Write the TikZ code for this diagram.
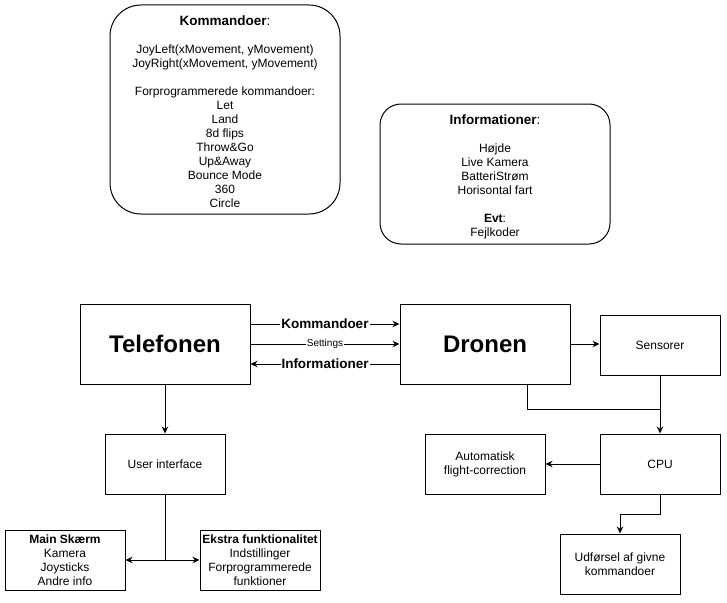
\documentclass[tikz,border=0pt]{standalone}
\usepackage{fontspec}
\setmainfont{Liberation Sans}
\usetikzlibrary{arrows.meta,positioning,calc}

\begin{document}
\begin{tikzpicture}[x=1pt,y=-1pt,>={Stealth[length=7pt,width=6.5pt]},line width=1pt,
  box/.style={draw,inner sep=0pt,align=center,font=\fontsize{12}{14}\selectfont},
  bigbox/.style={box,minimum width=170pt,minimum height=80pt,font=\fontsize{24}{26}\selectfont\bfseries},
  smallbox/.style={box,minimum width=120pt,minimum height=60pt},
  edgelabel/.style={fill=white,inner sep=1pt,font=\fontsize{13.5}{15}\selectfont\bfseries}]
\useasboundingbox (0,0) rectangle (727,602);
% info boxes
\node[box,rounded corners=31pt,minimum width=230pt,minimum height=209pt] (kom) at (225,109.5)
  {\rule{0pt}{15pt}{\fontsize{13.5}{15}\selectfont\textbf{Kommandoer}:}\\[14pt]
   JoyLeft(xMovement, yMovement)\\
   JoyRight(xMovement, yMovement)\\[14pt]
   Forprogrammerede kommandoer:\\
   Let\\ Land\\ 8d flips\\ Throw\&Go\\ Up\&Away\\ Bounce Mode\\ 360\\ Circle};
\node[box,rounded corners=21pt,minimum width=230pt,minimum height=140pt] (info) at (495,174)
  {\rule{0pt}{15pt}{\fontsize{13.5}{15}\selectfont\textbf{Informationer}:}\\[14pt]
   Højde\\ Live Kamera\\ BatteriStrøm\\ Horisontal fart\\[14pt]
   \textbf{Evt}:\\ Fejlkoder};
% main blocks
\node[bigbox] (tlf) at (165,344) {Telefonen};
\node[bigbox] (drone) at (485,344) {Dronen};
\node[smallbox] (sens) at (660,345) {Sensorer};
\node[smallbox] (ui) at (165,464) {User interface};
\node[smallbox] (mainsk) at (65,560) {\textbf{Main Skærm}\\ Kamera\\ Joysticks\\ Andre info};
\node[smallbox] (ekstra) at (260,560) {\textbf{Ekstra funktionalitet}\\ Indstillinger\\ Forprogrammerede\\ funktioner};
\node[smallbox] (auto) at (485,464) {Automatisk\\ flight-correction};
\node[smallbox] (cpu) at (660,464) {CPU};
\node[smallbox] (udf) at (620,564) {Udførsel af givne\\ kommandoer};
% connectors
\draw[->] ([yshift=20pt]tlf.east) -- node[edgelabel] {Kommandoer} ([yshift=20pt]drone.west);
\draw[->] (tlf.east) -- node[fill=white,inner sep=1pt,font=\fontsize{10}{12}\selectfont] {Settings} (drone.west);
\draw[->] ([yshift=-20pt]drone.west) -- node[edgelabel] {Informationer} ([yshift=-20pt]tlf.east);
\draw[->] (tlf) -- (ui);
\draw (ui.south) -- (ui.south |- mainsk.east) coordinate (split);
\draw[->] (split) -- (mainsk.east);
\draw[->] (split) -- (ekstra.west);
\draw[->] (drone.east) -- (drone.east -| sens.west);
\draw ([xshift=42pt]drone.south) -- ++(0,25) -| (sens.south);
\draw[->] (sens) -- (cpu);
\draw[->] (cpu) -- (auto);
\draw[->] (cpu.south) -- ++(0,20) -| (udf.north);
\end{tikzpicture}
\end{document}
